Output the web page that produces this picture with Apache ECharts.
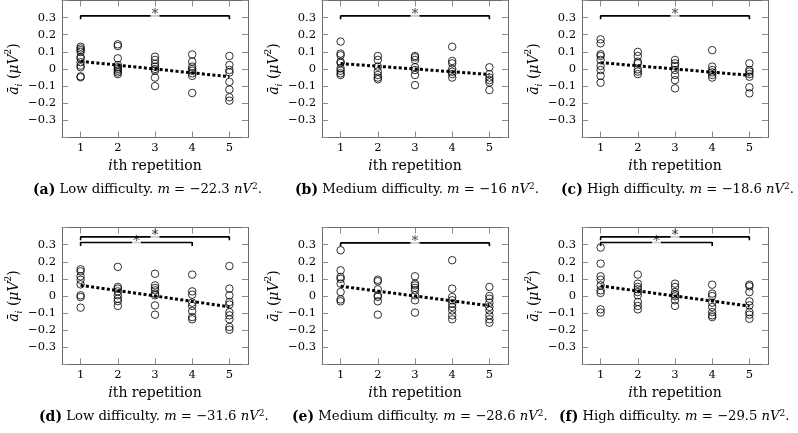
<!DOCTYPE html>
<html>
<head>
<meta charset="utf-8">
<script src="https://cdn.jsdelivr.net/npm/echarts@6/dist/echarts.min.js"></script>
<style>html,body{margin:0;padding:0;background:#fff;}#chart{width:798px;height:433px;}</style>
</head>
<body>
<div id="chart"></div>
<script>
// ---- data ----
const xTickValues = [1, 2, 3, 4, 5];
const xMin = 0.5, xMax = 5.5;
const yMin = -0.4, yMax = 0.4, yStep = 0.1;

// values per repetition (column 1..5)
const aLow = [
  [0.13, 0.12, 0.11, 0.10, 0.07, 0.062, 0.04, 0.02, 0.01, -0.043, -0.048],
  [0.144, 0.134, 0.062, 0.023, 0.01, 0.0, -0.01, -0.02, -0.03],
  [0.072, 0.053, 0.03, 0.014, 0.0, -0.01, -0.05, -0.1],
  [0.085, 0.043, 0.014, 0.0, -0.01, -0.025, -0.04, -0.14],
  [0.076, 0.023, -0.006, -0.02, -0.075, -0.12, -0.165, -0.185]
];
const bMedium = [
  [0.16, 0.09, 0.08, 0.043, 0.035, 0.004, -0.01, -0.025, -0.035],
  [0.076, 0.053, 0.014, -0.015, -0.035, -0.05, -0.06],
  [0.076, 0.068, 0.053, 0.01, -0.006, -0.035, -0.094],
  [0.13, 0.047, 0.033, 0.0, -0.016, -0.03, -0.05],
  [0.01, -0.03, -0.05, -0.065, -0.078, -0.123]
];
const cHigh = [
  [0.173, 0.15, 0.086, 0.076, 0.053, 0.018, -0.006, -0.04, -0.08],
  [0.1, 0.076, 0.043, 0.033, -0.002, -0.015, -0.03],
  [0.053, 0.033, 0.018, -0.006, -0.035, -0.065, -0.113],
  [0.11, 0.014, -0.006, -0.02, -0.035, -0.05],
  [0.033, -0.006, -0.015, -0.03, -0.045, -0.107, -0.142]
];
const dLow = [
  [0.156, 0.144, 0.115, 0.095, 0.068, 0.004, -0.006, -0.068],
  [0.17, 0.053, 0.043, 0.027, 0.004, -0.016, -0.03, -0.058],
  [0.13, 0.062, 0.047, 0.033, 0.014, 0.004, -0.055, -0.109],
  [0.125, 0.027, 0.008, -0.039, -0.058, -0.088, -0.123, -0.136],
  [0.175, 0.043, 0.004, -0.035, -0.05, -0.094, -0.113, -0.136, -0.181, -0.197]
];
const eMedium = [
  [0.267, 0.15, 0.111, 0.1, 0.072, 0.023, -0.02, -0.031],
  [0.095, 0.086, 0.039, 0.004, -0.005, -0.031, -0.109],
  [0.115, 0.072, 0.062, 0.047, 0.033, 0.004, -0.025, -0.097],
  [0.209, 0.043, -0.006, -0.025, -0.045, -0.064, -0.084, -0.113, -0.136],
  [0.053, 0.0, -0.016, -0.039, -0.064, -0.084, -0.113, -0.136, -0.156]
];
const fHigh = [
  [0.283, 0.189, 0.115, 0.095, 0.062, 0.033, 0.018, -0.078, -0.097],
  [0.125, 0.072, 0.053, 0.039, 0.023, 0.004, -0.035, -0.058, -0.078],
  [0.072, 0.053, 0.023, 0.008, -0.002, -0.025, -0.058],
  [0.066, 0.014, 0.0, -0.039, -0.064, -0.094, -0.113, -0.123],
  [0.066, 0.057, 0.023, -0.031, -0.055, -0.094, -0.109, -0.133]
];

// regression line values at repetition 1 and 5
const trendA = [0.045, -0.045];
const trendB = [0.032, -0.032];
const trendC = [0.037, -0.037];
const trendD = [0.063, -0.063];
const trendE = [0.057, -0.057];
const trendF = [0.059, -0.059];

// significance brackets: [from repetition, to repetition, level]
const bracketsA = [[1, 5, 0.31]];
const bracketsB = [[1, 5, 0.31]];
const bracketsC = [[1, 5, 0.31]];
const bracketsD = [[1, 5, 0.345], [1, 4, 0.312]];
const bracketsE = [[1, 5, 0.31]];
const bracketsF = [[1, 5, 0.345], [1, 4, 0.312]];

// captions
const captionLetters = ['(a)', '(b)', '(c)', '(d)', '(e)', '(f)'];
const captionDifficulty = ['Low difficulty.', 'Medium difficulty.', 'High difficulty.', 'Low difficulty.', 'Medium difficulty.', 'High difficulty.'];
const captionSlope = ['−22.3', '−16', '−18.6', '−31.6', '−28.6', '−29.5'];

// ---- layout ----
const gridPos = [
  {left: 62, top: 0.5},  {left: 322, top: 0.5},  {left: 582, top: 0.5},
  {left: 62, top: 227.5}, {left: 322, top: 227.5}, {left: 582, top: 227.5}
];
const gridW = 186, gridH = 137;
const capPos = [[33, 190], [295, 190], [561, 190], [39, 417], [292, 417], [559, 417]];

const panels = [
  {data: aLow, trend: trendA, brackets: bracketsA},
  {data: bMedium, trend: trendB, brackets: bracketsB},
  {data: cHigh, trend: trendC, brackets: bracketsC},
  {data: dLow, trend: trendD, brackets: bracketsD},
  {data: eMedium, trend: trendE, brackets: bracketsE},
  {data: fHigh, trend: trendF, brackets: bracketsF}
];

const FONT = 'DejaVu Serif';
const boxColor = '#6a6a6a';
const tickColor = '#8a8a8a';

const grids = [], xAxes = [], yAxes = [], series = [];

function fmtY(v) {
  if (Math.abs(v) > 0.35) return '';
  if (Math.abs(v) < 1e-9) return '0';
  return (v < 0 ? '−' : '') + Math.abs(v).toFixed(1);
}

panels.forEach((p, k) => {
  grids.push({left: gridPos[k].left, top: gridPos[k].top, width: gridW, height: gridH});
  const common = {
    gridIndex: k, type: 'value', min: xMin, max: xMax,
    axisLine: {show: true, onZero: false, lineStyle: {color: boxColor, width: 1}},
    axisTick: {show: true, inside: true, length: 6, customValues: xTickValues, lineStyle: {color: tickColor, width: 1}},
    splitLine: {show: false}
  };
  xAxes.push(Object.assign({}, common, {
    position: 'bottom',
    axisLabel: {show: true, margin: 5, color: '#000', fontFamily: FONT, fontSize: 11.5, customValues: xTickValues,
      showMinLabel: true, showMaxLabel: true},
    name: '{i|i}th repetition', nameLocation: 'middle', nameGap: 22,
    nameTextStyle: {color: '#000', fontFamily: FONT, fontSize: 14,
      rich: {i: {fontStyle: 'italic', fontFamily: FONT, fontSize: 14, color: '#000'}}}
  }));
  xAxes.push(Object.assign({}, common, {position: 'top', axisLabel: {show: false}}));
  const ycommon = {
    gridIndex: k, type: 'value', min: yMin, max: yMax, interval: yStep,
    axisLine: {show: true, onZero: false, lineStyle: {color: boxColor, width: 1}},
    axisTick: {show: true, inside: true, length: 6, lineStyle: {color: tickColor, width: 1}},
    splitLine: {show: false}
  };
  yAxes.push(Object.assign({}, ycommon, {
    position: 'left',
    axisLabel: {show: true, margin: 6, color: '#000', fontFamily: FONT, fontSize: 11.5, formatter: fmtY},
    name: '{a|ā}{s|i} ({a|μV}{p|2})', nameLocation: 'middle', nameGap: 38, nameRotate: 90,
    nameTextStyle: {color: '#000', fontFamily: FONT, fontSize: 14,
      rich: {
        a: {fontStyle: 'italic', fontFamily: FONT, fontSize: 14, color: '#000'},
        s: {fontStyle: 'italic', fontFamily: FONT, fontSize: 9, color: '#000', verticalAlign: 'bottom', lineHeight: 20},
        p: {fontFamily: FONT, fontSize: 9, color: '#000', verticalAlign: 'top', lineHeight: 20}
      }}
  }));
  yAxes.push(Object.assign({}, ycommon, {position: 'right', axisLabel: {show: false}}));

  const xi = 2 * k, yi = 2 * k;
  const pts = [];
  p.data.forEach((col, c) => col.forEach(v => pts.push([xTickValues[c], v])));
  series.push({
    type: 'scatter', xAxisIndex: xi, yAxisIndex: yi, data: pts,
    symbol: 'circle', symbolSize: 7.5,
    itemStyle: {color: 'rgba(0,0,0,0)', borderColor: '#000', borderWidth: 1},
    silent: true, z: 3
  });
  series.push({
    type: 'line', xAxisIndex: xi, yAxisIndex: yi,
    data: [[xTickValues[0], p.trend[0]], [xTickValues[4], p.trend[1]]],
    symbol: 'none', lineStyle: {color: '#000', width: 3, type: [3, 2.3], cap: 'butt'},
    silent: true, z: 4
  });
  p.brackets.forEach(b => {
    const x0 = b[0], x1 = b[1], lv = b[2], drop = 0.02;
    series.push({
      type: 'line', xAxisIndex: xi, yAxisIndex: yi,
      data: [[x0, lv - drop], [x0, lv], [x1, lv], [x1, lv - drop]],
      symbol: 'none', lineStyle: {color: '#000', width: 1.6},
      silent: true, z: 5
    });
    series.push({
      type: 'scatter', xAxisIndex: xi, yAxisIndex: yi,
      data: [[(x0 + x1) / 2, lv]],
      symbol: 'rect', symbolSize: [9, 5],
      itemStyle: {color: '#fff'},
      label: {show: true, formatter: '*', position: 'inside', offset: [0, -1],
        color: '#000', fontFamily: FONT, fontSize: 13},
      silent: true, z: 6
    });
  });
});

const graphics = captionLetters.map((L, k) => ({
  type: 'text', left: capPos[k][0], top: capPos[k][1] - 8,
  style: {
    text: '{b|' + L + '} ' + captionDifficulty[k] + ' {i|m} = ' + captionSlope[k] + ' {i|nV}{p|2}.',
    fontFamily: FONT, fontSize: 13.2, fill: '#000',
    rich: {
      b: {fontWeight: 'bold', fontFamily: FONT, fontSize: 14, fill: '#000'},
      i: {fontStyle: 'italic', fontFamily: FONT, fontSize: 13.2, fill: '#000'},
      p: {fontFamily: FONT, fontSize: 9, fill: '#000', verticalAlign: 'top', lineHeight: 16}
    }
  }
}));

const chart = echarts.init(document.getElementById('chart'), null, {renderer: 'canvas'});
chart.setOption({
  animation: false,
  backgroundColor: '#fff',
  grid: grids, xAxis: xAxes, yAxis: yAxes, series: series, graphic: graphics
});
</script>
</body>
</html>
